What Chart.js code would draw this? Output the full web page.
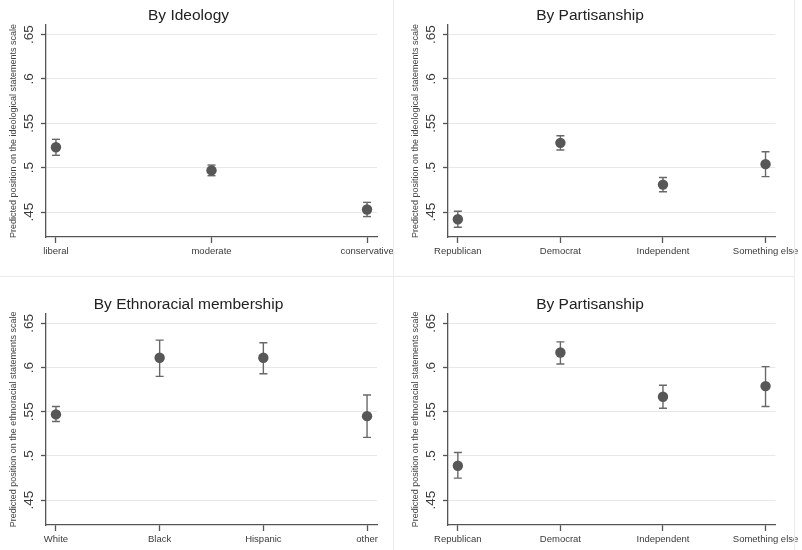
<!DOCTYPE html>
<html>
<head>
<meta charset="utf-8">
<script src="https://cdn.jsdelivr.net/npm/chart.js@4/dist/chart.umd.min.js"></script>
<style>
  html, body { margin: 0; padding: 0; background: #fff; }
  #page { position: relative; width: 802px; height: 550px; overflow: hidden; }
  .panel { position: absolute; }
  .sep { position: absolute; background: #ebebeb; }
</style>
</head>
<body>
<div id="page">
  <div class="panel" style="left:0;top:0;width:401px;height:275px"><canvas id="c1"></canvas></div>
  <div class="panel" style="left:402px;top:0;width:400px;height:275px"><canvas id="c2"></canvas></div>
  <div class="panel" style="left:0;top:277px;width:401px;height:273px"><canvas id="c3"></canvas></div>
  <div class="panel" style="left:402px;top:277px;width:400px;height:273px"><canvas id="c4"></canvas></div>
  <div class="sep" style="left:393px;top:0;width:1px;height:550px"></div>
  <div class="sep" style="left:794px;top:0;width:1px;height:550px"></div>
  <div class="sep" style="left:0;top:276px;width:795px;height:1px"></div>
</div>
<script>
/* ── Data ──────────────────────────────────────────────────── */
const Y_TICKS       = [0.45, 0.5, 0.55, 0.6, 0.65];
const Y_TICK_LABELS = ['.45', '.5', '.55', '.6', '.65'];
const Y_MIN = 0.422, Y_MAX = 0.6607;

const IDEO_CATS = ['liberal', 'moderate', 'conservative'];
const IDEO_EST  = [0.523, 0.497, 0.453];
const IDEO_LO   = [0.514, 0.491, 0.445];
const IDEO_HI   = [0.532, 0.503, 0.461];

const PARTY_CATS = ['Republican', 'Democrat', 'Independent', 'Something else'];
const PARTY1_EST = [0.442, 0.528, 0.481, 0.504];
const PARTY1_LO  = [0.433, 0.520, 0.473, 0.490];
const PARTY1_HI  = [0.451, 0.536, 0.489, 0.518];

const ETH_CATS = ['White', 'Black', 'Hispanic', 'other'];
const ETH_EST  = [0.547, 0.611, 0.611, 0.545];
const ETH_LO   = [0.539, 0.590, 0.593, 0.521];
const ETH_HI   = [0.556, 0.631, 0.628, 0.569];

const PARTY2_EST = [0.489, 0.617, 0.567, 0.579];
const PARTY2_LO  = [0.475, 0.604, 0.554, 0.556];
const PARTY2_HI  = [0.504, 0.629, 0.580, 0.601];

/* ── Style ─────────────────────────────────────────────────── */
const FONT   = "'Liberation Sans', Arial, sans-serif";
const DOT    = '#575757';
const BAR    = '#686868';
const AXIS   = '#555';
const GRID   = '#e8e8e8';
const TEXT   = '#3a3a3a';

function panel(id, cats, est, lo, hi, title, yTitle, bottomRow) {
  const n = cats.length;
  const pad = 0.032 * (n - 1);

  const points = est.map((v, i) => ({ x: i, y: v }));
  const caps = [];
  const stems = [];
  cats.forEach((_, i) => {
    caps.push({ x: i, y: lo[i] }, { x: i, y: hi[i] });
    stems.push({ x: i, y: lo[i] }, { x: i, y: hi[i] }, { x: i, y: null });
  });

  new Chart(document.getElementById(id), {
    type: 'scatter',
    data: {
      datasets: [
        { data: points, pointRadius: 5.2, pointBackgroundColor: DOT, pointBorderColor: DOT,
          pointBorderWidth: 0, order: 0 },
        { data: stems, showLine: true, spanGaps: false, borderColor: BAR, borderWidth: 1.4,
          pointRadius: 0, order: 2 },
        { data: caps, pointStyle: 'line', pointRadius: 4, pointBorderColor: BAR,
          pointBorderWidth: 1.4, order: 1 },
      ],
    },
    options: {
      responsive: true, maintainAspectRatio: false, animation: false,
      layout: { padding: { left: 0, right: 24, top: 0, bottom: 0 } },
      plugins: {
        legend: { display: false },
        tooltip: { enabled: false },
        title: {
          display: true, text: title, color: '#222',
          font: { family: FONT, size: 15.5, weight: 'normal', lineHeight: 1.2 },
          padding: { top: bottomRow ? 18.2 : 6.4, bottom: 0 },
        },
      },
      scales: {
        x: {
          type: 'linear', min: -pad, max: (n - 1) + pad,
          afterBuildTicks: s => { s.ticks = cats.map((_, i) => ({ value: i })); },
          afterFit: s => { s.height = bottomRow ? 25 : 38; },
          ticks: {
            color: TEXT, padding: 3, maxRotation: 0, autoSkip: false,
            font: { family: FONT, size: 9.5 },
            callback: v => cats[v],
          },
          grid: { drawOnChartArea: false, drawTicks: true, tickLength: 6, tickColor: AXIS, tickWidth: 1.3 },
          border: { display: true, color: AXIS, width: 1.3 },
        },
        y: {
          min: Y_MIN, max: Y_MAX,
          afterBuildTicks: s => { s.ticks = Y_TICKS.map(v => ({ value: v })); },
          afterFit: s => { s.width = 46; },
          ticks: {
            color: TEXT, padding: 2, minRotation: 90, maxRotation: 90, crossAlign: 'center',
            font: { family: FONT, size: 13.5 },
            callback: v => Y_TICK_LABELS[Y_TICKS.indexOf(v)],
          },
          grid: { color: GRID, lineWidth: 1, drawTicks: true, tickLength: 5, tickColor: AXIS, tickWidth: 1.3 },
          border: { display: true, color: AXIS, width: 1.3 },
          title: {
            display: true, text: yTitle, color: '#444',
            font: { family: FONT, size: 9, lineHeight: 1.2 },
            padding: { top: 8, bottom: 0 },
          },
        },
      },
    },
  });
}

/* ── Four panels ───────────────────────────────────────────── */
const Y_IDEO = 'Predicted position on the ideological statements scale';
const Y_ETH  = 'Predicted position on the ethnoracial statements scale';

panel('c1', IDEO_CATS, IDEO_EST, IDEO_LO, IDEO_HI, 'By Ideology', Y_IDEO, false);
panel('c2', PARTY_CATS, PARTY1_EST, PARTY1_LO, PARTY1_HI, 'By Partisanship', Y_IDEO, false);
panel('c3', ETH_CATS, ETH_EST, ETH_LO, ETH_HI, 'By Ethnoracial membership', Y_ETH, true);
panel('c4', PARTY_CATS, PARTY2_EST, PARTY2_LO, PARTY2_HI, 'By Partisanship', Y_ETH, true);
</script>
</body>
</html>
